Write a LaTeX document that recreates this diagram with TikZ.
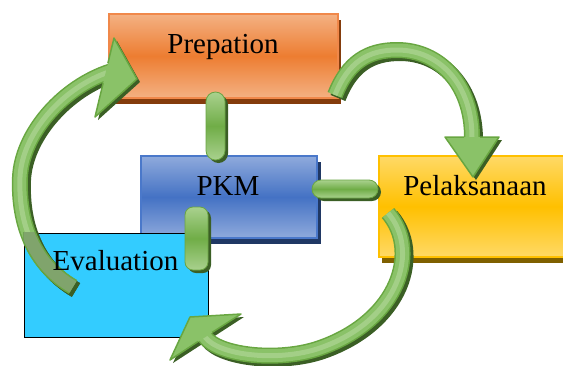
\documentclass[tikz,border=0pt]{standalone}
\usepackage{fontspec}
\setmainfont{Liberation Serif}
\usetikzlibrary{shadows}
\definecolor{prepL}{HTML}{F4B183}
\definecolor{prepM}{HTML}{ED7D31}
\definecolor{prepE}{HTML}{F0884A}
\definecolor{prepS}{HTML}{843C0C}
\definecolor{pkmL}{HTML}{8FAADC}
\definecolor{pkmM}{HTML}{4472C4}
\definecolor{pkmE}{HTML}{4A78CA}
\definecolor{pkmS}{HTML}{203864}
\definecolor{pelL}{HTML}{FFD966}
\definecolor{pelM}{HTML}{FFC000}
\definecolor{pelE}{HTML}{FFC000}
\definecolor{pelS}{HTML}{7F6000}
\definecolor{evalF}{HTML}{33CCFF}
\definecolor{pillL}{HTML}{A9D18E}
\definecolor{pillM}{HTML}{70AD47}
\definecolor{pillE}{HTML}{6AA443}
\definecolor{gshadow}{HTML}{3B5F25}
\definecolor{arrBody}{HTML}{8AC268}
\definecolor{arrHi}{HTML}{A3CF87}
\definecolor{arrEdge}{HTML}{68A641}
\definecolor{arrGray}{HTML}{80A46C}
\begin{document}
\begin{tikzpicture}[x=1pt,y=-1pt,
  boxnode/.style={inner sep=0pt, line width=1.2pt},
  boxtext/.style={anchor=base, inner sep=0pt, font=\fontsize{29}{34}\selectfont},
  pill/.style={inner sep=0pt, draw=pillE, line width=0.8pt, top color=pillL, bottom color=pillL, middle color=pillM,
    drop shadow={shadow xshift=3pt, shadow yshift=-3pt, fill=gshadow, opacity=1}},
  arrshadow/.style={draw=gshadow, line width=16pt},
  arrborder/.style={draw=arrEdge, line width=16pt},
  arrfill/.style={draw=arrBody, line width=13pt},
  arrhi/.style={draw=arrHi, line width=5pt},
  headfill/.style={fill=arrBody},
  headshadow/.style={fill=gshadow},
  headedge/.style={draw=arrEdge, line width=1.5pt, line join=round}]
\useasboundingbox (0,0) rectangle (563,365);

% boxes
\node[boxnode, draw=prepE, top color=prepL, bottom color=prepL, middle color=prepM,
  minimum width=229pt, minimum height=84pt,
  drop shadow={shadow xshift=3pt, shadow yshift=-6pt, fill=prepS, opacity=1}] (prep) at (223.5,56) {};
\node[boxnode, draw=pkmE, top color=pkmL, bottom color=pkmL, middle color=pkmM,
  minimum width=176pt, minimum height=82pt,
  drop shadow={shadow xshift=4pt, shadow yshift=-6pt, fill=pkmS, opacity=1}] (pkm) at (229,197) {};
\node[boxnode, draw=pelE, top color=pelL, bottom color=pelL, middle color=pelM,
  minimum width=192pt, minimum height=101pt,
  drop shadow={shadow xshift=3pt, shadow yshift=-6pt, fill=pelS, opacity=1}] (pel) at (475,206.5) {};
\node[boxnode, draw=black, line width=1pt, fill=evalF,
  minimum width=184pt, minimum height=104pt] (eval) at (116,285) {};

\node[boxtext] (prept) at (223,53) {Prepation};
\node[boxtext] (pkmt) at (228,195) {PKM};
\node[boxtext] (pelt) at (475,195) {Pelaksanaan};

% pills
\node[pill, rounded corners=9.5pt, minimum width=19pt, minimum height=68pt] (p1) at (215.5,126) {};
\node[pill, rounded corners=8pt, minimum width=23pt, minimum height=63pt] (p2) at (196.5,238.5) {};
\node[pill, rounded corners=9pt, minimum width=66pt, minimum height=18pt] (p3) at (345,189) {};

% arrow paths
\def\arrowone{(335,95) .. controls (348,62) and (368,50) .. (397,50) .. controls (440,50) and (472,85) .. (472,137) -- (472,142)}
\def\headone{(445,137) -- (473,177) -- (499,137) -- cycle}
\def\arrowtwo{(73,287) .. controls (35,265) and (18,225) .. (20,177) .. controls (22,135) and (60,90) .. (106,73) -- (112,71)}
\def\headtwo{(114,38) -- (137,79) -- (95,117) -- cycle}
\def\arrowthree{(388,213) .. controls (420,250) and (400,320) .. (320,348) .. controls (280,362) and (219,356) .. (205,337) -- (202.3,332.8)}
\def\headthree{(241,314) -- (190,317) -- (170,360) -- cycle}

% arrow 1
\draw[arrshadow, shift={(3,3)}] \arrowone;
\fill[headshadow, shift={(3,3)}] \headone;
\draw[arrborder] \arrowone;
\draw[arrfill] \arrowone;
\draw[arrhi] \arrowone;
\fill[headfill] \headone;
\draw[headedge] (464,137) -- (445,137) -- (473,177) -- (499,137) -- (480,137);

% arrow 3
\draw[arrshadow, shift={(3,3)}] \arrowthree;
\fill[headshadow, shift={(3,3)}] \headthree;
\draw[arrborder] \arrowthree;
\draw[arrfill] \arrowthree;
\draw[arrhi] \arrowthree;
\fill[headfill] \headthree;
\draw[headedge] (212.1,332.4) -- (241,314) -- (190,317) -- (170,360) -- (197.9,341.6);

% arrow 2
\draw[arrshadow, shift={(3,3)}] \arrowtwo;
\fill[headshadow, shift={(3,3)}] \headtwo;
\draw[arrborder] \arrowtwo;
\draw[arrfill] \arrowtwo;
\draw[arrhi] \arrowtwo;
\fill[headfill] \headtwo;
\draw[headedge] (107.9,63.2) -- (114,38) -- (137,79) -- (95,117) -- (103.1,83.2);
\begin{scope}
  \clip (eval.south west) rectangle (eval.north east);
  \draw[arrshadow, shift={(3,3)}] \arrowtwo;
  \draw[arrborder] \arrowtwo;
  \draw[draw=arrGray, line width=13pt] \arrowtwo;
\end{scope}

\node[boxtext] (evalt) at (115.5,270) {Evaluation};
\end{tikzpicture}
\end{document}
